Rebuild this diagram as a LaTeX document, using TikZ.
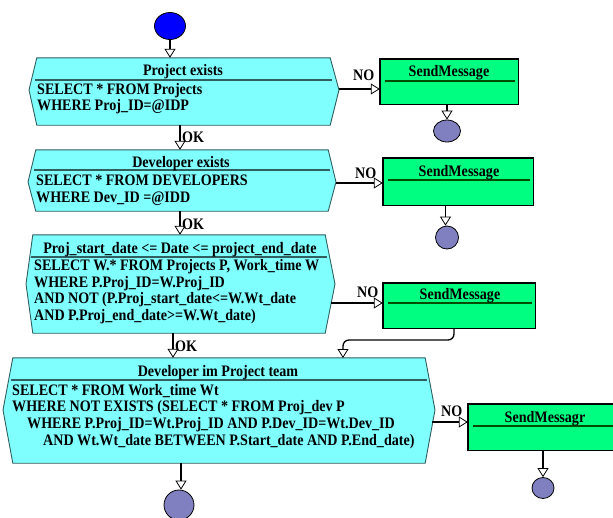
\documentclass[tikz,border=0pt]{standalone}
\usepackage{fontspec}
\setmainfont{Liberation Serif}[FakeStretch=0.88]
\usetikzlibrary{arrows.meta,fit,shapes.geometric}
\definecolor{cyanbox}{HTML}{80FFFF}
\definecolor{greenbox}{HTML}{00FF80}
\definecolor{endc}{HTML}{8080C0}
\definecolor{startc}{HTML}{0000FF}
\definecolor{edgec}{HTML}{2F5F5F}
\begin{document}
\begin{tikzpicture}[x=1pt,y=-1pt,
  txt/.style={font=\fontsize{16}{17}\selectfont\bfseries, inner sep=0},
  lbl/.style={txt, anchor=base west},
  ttl/.style={txt, anchor=base},
  body/.style={inner sep=0, draw=none},
  hex/.style={fill=cyanbox, draw=edgec, line width=0.9pt},
  hsep/.style={draw=edgec, line width=1.1pt},
  gbox/.style={fill=greenbox, draw=black, line width=1.4pt},
  gsep/.style={draw=black!70!green, line width=1.1pt},
  conn/.style={draw=black, line width=1.3pt, -{Triangle[length=9pt,width=11pt,fill=white,line width=0.8pt]}},
  endpt/.style={ellipse, draw=black, line width=0.8pt, fill=endc, inner sep=0}]
\useasboundingbox (0,0) rectangle (613,517);

% ---------- box 1 ----------
\node[body, fit={(37,58)(330,125)}] (b1) {};
\draw[hex] (b1.north west) -- (b1.north east) -- (339,90) -- (b1.south east) -- (b1.south west) -- (29,90) -- cycle;
\draw[hsep] (35,80) -- (332,80);
\node[ttl] (b1t) at (183,75) {Project exists};
\node[lbl] (b1a) at (37,94) {SELECT * FROM Projects};
\node[lbl] (b1b) at (37,110) {WHERE Proj\_ID=@IDP};

% ---------- box 2 ----------
\node[body, fit={(36,150)(328,211)}] (b2) {};
\draw[hex] (b2.north west) -- (b2.north east) -- (336,182) -- (b2.south east) -- (b2.south west) -- (28,182) -- cycle;
\draw[hsep] (34,170) -- (330,170);
\node[ttl] (b2t) at (181,167) {Developer exists};
\node[lbl] (b2a) at (36,185) {SELECT * FROM DEVELOPERS};
\node[lbl] (b2b) at (36,202) {WHERE Dev\_ID =@IDD};

% ---------- box 3 ----------
\node[body, fit={(33,235)(325,333)}] (b3) {};
\draw[hex] (b3.north west) -- (b3.north east) -- (335,284) -- (b3.south east) -- (b3.south west) -- (26,284) -- cycle;
\draw[hsep] (31,257) -- (327,257);
\node[ttl] (b3t) at (180,253) {Proj\_start\_date <= Date <= project\_end\_date};
\node[lbl] (b3a) at (34,270) {SELECT W.* FROM Projects P, Work\_time W};
\node[lbl] (b3b) at (34,287) {WHERE P.Proj\_ID=W.Proj\_ID};
\node[lbl] (b3c) at (34,303) {AND NOT (P.Proj\_start\_date<=W.Wt\_date};
\node[lbl] (b3d) at (34,320) {AND P.Proj\_end\_date>=W.Wt\_date)};
\coordinate (b3out) at (331,303);

% ---------- box 4 ----------
\node[body, fit={(13,358)(425,463)}] (b4) {};
\draw[hex] (b4.north west) -- (b4.north east) -- (435,410) -- (b4.south east) -- (b4.south west) -- (3,410) -- cycle;
\draw[hsep] (11,380) -- (427,380);
\node[ttl] (b4t) at (218,376) {Developer im Project team};
\node[lbl] (b4a) at (12,395) {SELECT * FROM Work\_time Wt};
\node[lbl] (b4b) at (12,411) {WHERE NOT EXISTS (SELECT * FROM Proj\_dev P};
\node[lbl] (b4c) at (27,428) {WHERE P.Proj\_ID=Wt.Proj\_ID AND P.Dev\_ID=Wt.Dev\_ID};
\node[lbl] (b4d) at (43,445) {AND Wt.Wt\_date BETWEEN P.Start\_date AND P.End\_date)};
\coordinate (b4out) at (432,422);

% ---------- green boxes ----------
\node[body, fit={(380,59)(518,104)}] (s1) {};
\draw[gbox] (s1.north west) rectangle (s1.south east);
\draw[gsep] (385,81) -- (515,81);
\node[ttl] (s1t) at (449,76) {SendMessage};

\node[body, fit={(383,158)(533,205)}] (s2) {};
\draw[gbox] (s2.north west) rectangle (s2.south east);
\draw[gsep] (388,180) -- (530,180);
\node[ttl] (s2t) at (459,176) {SendMessage};

\node[body, fit={(383,283)(535,328)}] (s3) {};
\draw[gbox] (s3.north west) rectangle (s3.south east);
\draw[gsep] (388,303) -- (532,303);
\node[ttl] (s3t) at (460,299) {SendMessage};

\node[body, fit={(468,404)(625,450)}] (s4) {};
\draw[gbox] (s4.north west) rectangle (s4.south east);
\draw[gsep] (473,426) -- (622,426);
\node[ttl] (s4t) at (545,422) {SendMessagr};

% ---------- circles ----------
\node[ellipse, draw=black, line width=0.8pt, fill=startc, minimum width=31pt, minimum height=27pt, inner sep=0] (start) at (170,26) {};
\node[endpt, minimum width=27pt, minimum height=22pt] (e1) at (447,131) {};
\node[endpt, minimum width=23pt, minimum height=23pt] (e2) at (447,237.5) {};
\node[endpt, minimum width=22pt, minimum height=21pt] (e4) at (543,488) {};
\node[endpt, minimum width=30pt, minimum height=30pt] (e5) at (179,505) {};

% ---------- connectors ----------
\draw[conn] (start.south) -- (start.south |- b1.north);
\draw[conn] (180,125) coordinate (o1) -- (o1 |- b2.north);
\draw[conn] (180,211) coordinate (o2) -- (o2 |- b3.north);
\draw[conn] (173,333) coordinate (o3) -- (o3 |- b4.north);
\draw[conn] (181,463) coordinate (o4) -- (o4 |- e5.north);

\draw[conn] (339,89) coordinate (n1) -- (n1 -| s1.west);
\draw[conn] (336,183) coordinate (n2) -- (n2 -| s2.west);
\draw[conn] (b3out) -- (b3out -| s3.west);
\draw[conn] (b4out) -- (b4out -| s4.west);

\draw[conn] (447,104) coordinate (d1) -- (d1 |- e1.north);
\draw[conn] (445.5,205) coordinate (d2) -- (d2 |- e2.north);
\draw[conn] (543,450) coordinate (d4) -- (d4 |- e4.north);
\draw[conn, rounded corners=6pt] (454,328) coordinate (d3) -- (454,340) -- (343,340) -- (343,358);

% ---------- labels ----------
\node[lbl] (ok1) at (182,142) {OK};
\node[lbl] (ok2) at (182,229) {OK};
\node[lbl] (ok3) at (175,351) {OK};
\node[lbl] (no1) at (353,80) {NO};
\node[lbl] (no2) at (355,178) {NO};
\node[lbl] (no3) at (357,297) {NO};
\node[lbl] (no4) at (441,416) {NO};
\end{tikzpicture}
\end{document}
